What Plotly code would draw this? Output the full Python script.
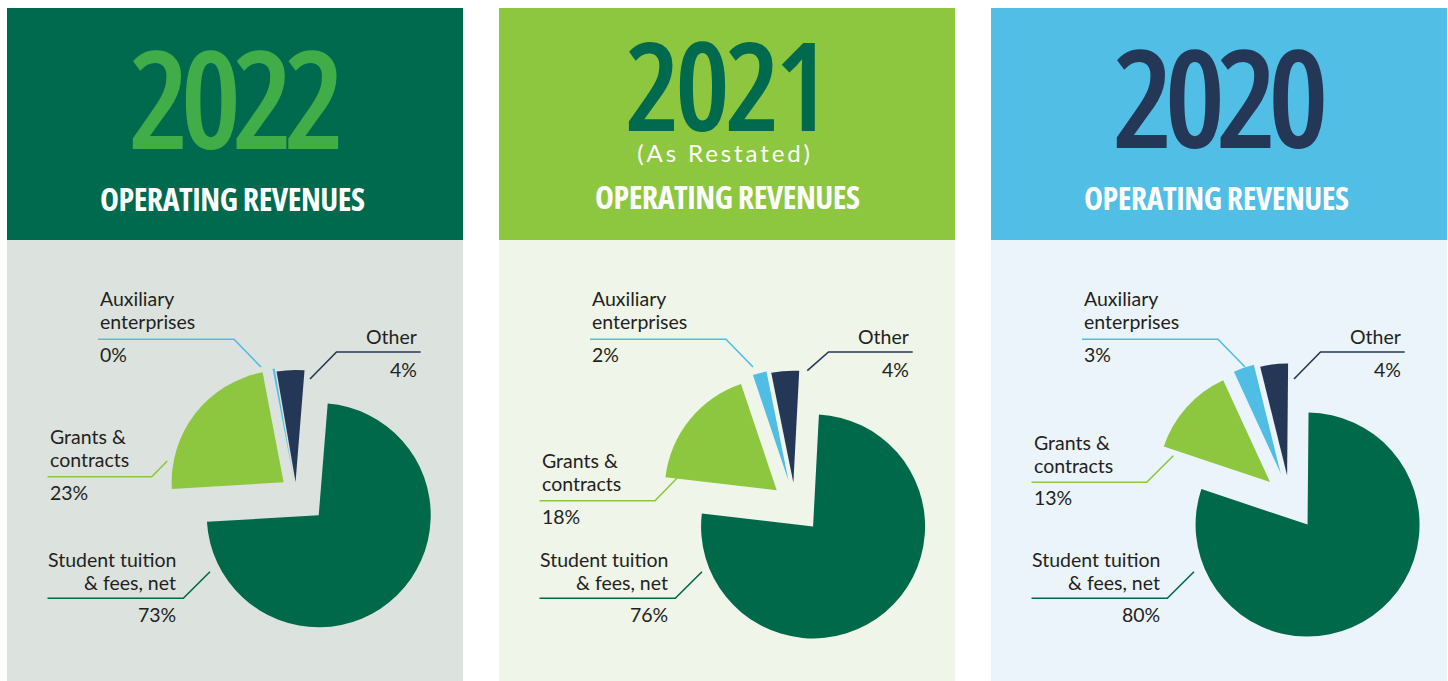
import plotly.graph_objects as go

W, H = 1448, 681

# ---------------- data ----------------
years = ["2022", "2021", "2020"]
subtitles = ["", "(As Restated)", ""]
header_title = "OPERATING REVENUES"
categories = ["Student tuition<br>& fees, net", "Grants &<br>contracts", "Auxiliary<br>enterprises", "Other"]
values_2022 = [73, 23, 0.3, 4]
values_2021 = [76, 18, 2, 4]
values_2020 = [80, 13, 3, 4]
values = [values_2022, values_2021, values_2020]

# ---------------- styles / layout ----------------
slice_colors = ["#00694A", "#8DC63F", "#50BDE4", "#243757"]
header_bg = ["#006A4E", "#8DC63F", "#50BEE5"]
year_color = ["#41AD49", "#006A4E", "#243757"]
body_bg = ["#DCE3DF", "#EFF5E8", "#EBF4FB"]
text_color = "#231F20"

panel_x0 = [7, 499, 991]
panel_w = 456
header_top, header_bot = 8, 240

pie_center = [(296, 492), (795, 505), (1290, 500)]
pie_radius = 112
pie_rotation = [4.6, 3, 0.5]
pie_pull = [[0.29, 0.14, 0.12, 0.09], [0.25, 0.21, 0.22, 0.20], [0.27, 0.24, 0.25, 0.22]]

year_size = [136, 123, 136]
year_spacing = [-9, -5, -9]
header_x_shift = [-3, -2, -3]
title_baseline = [211.5, 210, 210.7]
sub_baseline = 163.3

grants_line_y = [476.7, 500.7, 482.3]
grants_knee_x = [144.7, 156, 155.7]
grants_end = [(160.3, 461), (182, 474), (182.3, 455.7)]
other_end = [(303, 379), (308.3, 370.7), (303, 379)]

LAB = 19.5          # label font size
LINE_GAP = 23.5     # label line spacing (px)
ASC, DESC = 0.987, 0.213          # Lato metrics
OS_ASC, OS_DESC = 1.069, 0.293    # Open Sans metrics
HEAD_FONT = "Open Sans"
LAB_FONT = "Lato"
TITLE_SIZE = 32
SUB_SIZE = 24

fig = go.Figure()
shapes = []
annotations = []


def ann(x, y, text, xanchor, yanchor, size, color, family, weight="normal", style=None):
    t = f'<span style="{style}">{text}</span>' if style else text
    annotations.append(dict(x=x, y=y, xref="x", yref="y", text=t, showarrow=False,
                            xanchor=xanchor, yanchor=yanchor, align=xanchor,
                            font=dict(family=family, size=size, color=color, weight=weight)))


def text_at_baseline(x, baseline, text, xanchor):
    # place one line of label text so that its baseline sits at `baseline`
    ann(x, baseline + DESC * LAB + 1, text, xanchor, "bottom", LAB, text_color, LAB_FONT)


def name_block(x, last_baseline, text, xanchor):
    lines = text.split("<br>")
    n = len(lines)
    for k, line in enumerate(lines):
        text_at_baseline(x, last_baseline - (n - 1 - k) * LINE_GAP, line, xanchor)


def pct(x, baseline, v, xanchor):
    text_at_baseline(x, baseline, f"{round(v)}%", xanchor)


def year_span(i):
    return (f'<span style="font-family:\'Open Sans\';font-size:{year_size[i]}px;font-weight:600;'
            f'font-stretch:condensed;letter-spacing:{year_spacing[i]}px;fill:{year_color[i]}">{years[i]}</span>')


def title_span():
    return (f'<span style="font-size:{TITLE_SIZE}px;font-weight:700;font-stretch:condensed;'
            f'letter-spacing:-0.5px">{header_title}</span>')


for i in range(3):
    x0 = panel_x0[i]
    # panel backgrounds
    shapes.append(dict(type="rect", xref="x", yref="y", x0=x0, x1=x0 + panel_w, y0=header_top, y1=header_bot,
                       fillcolor=header_bg[i], line=dict(width=0), layer="below"))
    shapes.append(dict(type="rect", xref="x", yref="y", x0=x0, x1=x0 + panel_w, y0=header_bot, y1=H,
                       fillcolor=body_bg[i], line=dict(width=0), layer="below"))
    cxm = x0 + panel_w / 2 + header_x_shift[i]

    # header texts
    if subtitles[i]:
        # year + subtitle as one text block (line gap = 1.3 x subtitle size)
        txt = year_span(i) + "<br>" + f'<span style="letter-spacing:2.9px">{subtitles[i]}</span>'
        annotations.append(dict(x=cxm, y=sub_baseline + DESC * SUB_SIZE + 1, xref="x", yref="y", text=txt,
                                showarrow=False, xanchor="center", yanchor="bottom", align="center",
                                font=dict(family=LAB_FONT, size=SUB_SIZE, color="white")))
        tb = title_baseline[i]
        annotations.append(dict(x=x0 + panel_w / 2, y=tb + OS_DESC * TITLE_SIZE + 1, xref="x", yref="y",
                                text=title_span(), showarrow=False, xanchor="center", yanchor="bottom",
                                font=dict(family=HEAD_FONT, size=TITLE_SIZE, color="white", weight="bold")))
    else:
        # year + title as one text block; base size sets the gap between the two baselines
        base = 48
        txt = year_span(i) + "<br>" + title_span()
        tb = title_baseline[i]
        annotations.append(dict(x=cxm, y=tb + OS_DESC * TITLE_SIZE + 1, xref="x", yref="y", text=txt,
                                showarrow=False, xanchor="center", yanchor="bottom", align="center",
                                font=dict(family=HEAD_FONT, size=base, color="white", weight="bold")))

    # pie
    cx, cy = pie_center[i]
    size = 2 * pie_radius * (1 + max(pie_pull[i]))
    fig.add_trace(go.Pie(
        values=values[i], labels=[c.replace("<br>", " ") for c in categories],
        sort=False, direction="clockwise", rotation=pie_rotation[i],
        pull=pie_pull[i], marker=dict(colors=slice_colors, line=dict(width=0)),
        textinfo="none", hoverinfo="label+percent", showlegend=False,
        domain=dict(x=[(cx - size / 2) / W, (cx + size / 2) / W],
                    y=[1 - (cy + size / 2) / H, 1 - (cy - size / 2) / H]),
    ))

    # callout lines
    def path(pts, color):
        d = "M " + " L ".join(f"{px} {py}" for px, py in pts)
        shapes.append(dict(type="path", xref="x", yref="y", path=d, line=dict(color=color, width=1.6), layer="below"))

    path([(x0 + 40.5, 598.3), (x0 + 176.3, 598.3), (x0 + 203, 571.7)], slice_colors[0])
    gy = grants_line_y[i]
    path([(x0 + 40.5, gy), (x0 + grants_knee_x[i], gy), (x0 + grants_end[i][0], grants_end[i][1])], slice_colors[1])
    path([(x0 + 91, 339.3), (x0 + 227, 339.3), (x0 + 254, 367)], slice_colors[2])
    path([(x0 + 413.7, 352), (x0 + 329.5, 352), (x0 + other_end[i][0], other_end[i][1])], slice_colors[3])

    # labels
    name_block(x0 + 171, 591, categories[0], "right")
    pct(x0 + 171, 623.3, values[i][0], "right")
    name_block(x0 + 40.5, gy - 8.4, categories[1], "left")
    pct(x0 + 40.5, gy + 24, values[i][1], "left")
    name_block(x0 + 91, 330, categories[2], "left")
    pct(x0 + 91, 362.7, values[i][2], "left")
    name_block(x0 + 411.5, 345, categories[3], "right")
    pct(x0 + 411.5, 377.7, values[i][3], "right")

fig.update_layout(
    width=W, height=H, margin=dict(l=0, r=0, t=0, b=0),
    paper_bgcolor="white", plot_bgcolor="rgba(0,0,0,0)",
    xaxis=dict(range=[0, W], visible=False, fixedrange=True, domain=[0, 1]),
    yaxis=dict(range=[H, 0], visible=False, fixedrange=True, domain=[0, 1]),
    shapes=shapes, annotations=annotations, showlegend=False,
)
# remove the page's default 8px body margin so the figure fills the window exactly
fig.write_html("out.html", config={"displayModeBar": False},
               post_script="document.body.style.margin='0px';")
